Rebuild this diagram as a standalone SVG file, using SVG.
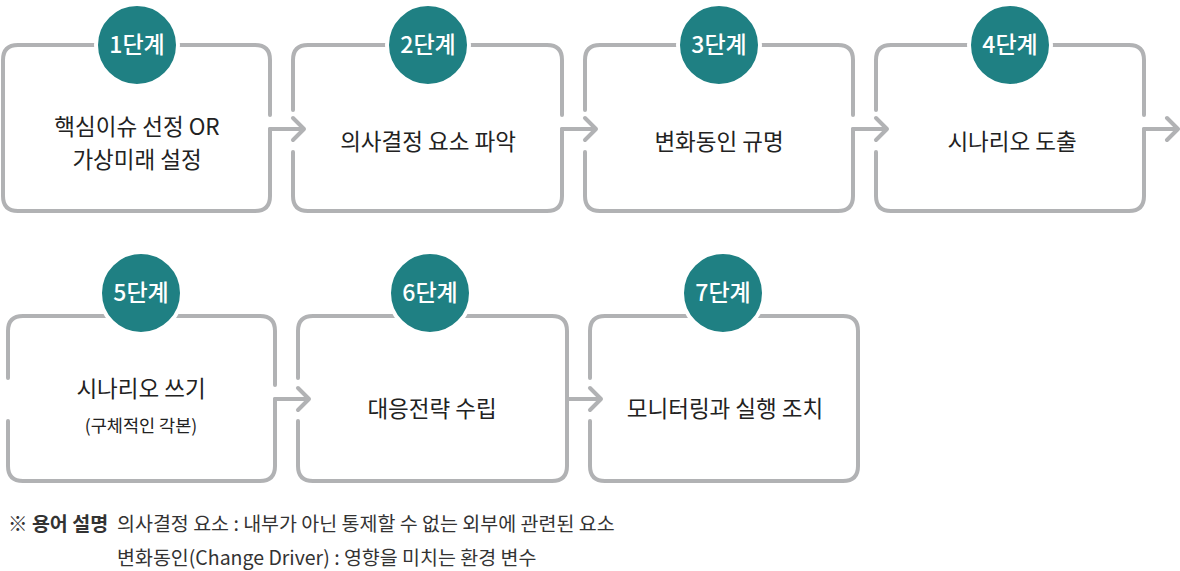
<svg xmlns="http://www.w3.org/2000/svg" width="1180" height="571" viewBox="0 0 1180 571">
<style>
.b{fill:none;stroke:#b1b2b4;stroke-width:4;stroke-linecap:round;stroke-linejoin:round}
.c{fill:#1f8083;stroke:#fff;stroke-width:4}
.ct{fill:#fff;font-family:"Noto Sans CJK KR","Noto Sans",sans-serif;font-size:23px;font-weight:500;text-anchor:middle}
.t{fill:#222;font-family:"Noto Sans CJK KR","Noto Sans",sans-serif;font-size:22.5px;text-anchor:middle}
.s{fill:#333;font-family:"Noto Sans CJK KR","Noto Sans",sans-serif;font-size:19.5px}
</style>
<rect width="1180" height="571" fill="#fff"/>
<g id="connectors" class="b">
<path d="M270 129H304M293 118L304 129L293 140"/>
<path d="M562 129H596M585 118L596 129L585 140"/>
<path d="M853 129H887M876 118L887 129L876 140"/>
<path d="M1144 129H1178M1167 118L1178 129L1167 140"/>
<path d="M275 399H309M298 388L309 399L298 410"/>
<path d="M567 399H601M590 388L601 399L590 410"/>
</g>
<g id="step1">
<path class="b" d="M270 129V196Q270 211 255 211H18Q3 211 3 196V60Q3 45 18 45H255Q270 45 270 60V115"/>
<circle class="c" cx="137" cy="45" r="41"/><text class="ct" x="137" y="53">1단계</text>
<text class="t" x="137" y="135">핵심이슈 선정 OR</text><text class="t" x="137" y="168">가상미래 설정</text>
</g>
<g id="step2">
<path class="b" d="M293 152V196Q293 211 308 211H547Q562 211 562 196V129M562 115V60Q562 45 547 45H308Q293 45 293 60V110"/>
<circle class="c" cx="428" cy="45" r="41"/><text class="ct" x="428" y="53">2단계</text>
<text class="t" x="428" y="150">의사결정 요소 파악</text>
</g>
<g id="step3">
<path class="b" d="M585 152V196Q585 211 600 211H838Q853 211 853 196V129M853 115V60Q853 45 838 45H600Q585 45 585 60V110"/>
<circle class="c" cx="719" cy="45" r="41"/><text class="ct" x="719" y="53">3단계</text>
<text class="t" x="719" y="150">변화동인 규명</text>
</g>
<g id="step4">
<path class="b" d="M876 152V196Q876 211 891 211H1129Q1144 211 1144 196V129M1144 115V60Q1144 45 1129 45H891Q876 45 876 60V110"/>
<circle class="c" cx="1010" cy="45" r="41"/><text class="ct" x="1010" y="53">4단계</text>
<text class="t" x="1012" y="150">시나리오 도출</text>
</g>
<g id="step5">
<path class="b" d="M8 421V466Q8 481 23 481H260Q275 481 275 466V399M275 385V331Q275 316 260 316H23Q8 316 8 331V378"/>
<circle class="c" cx="141" cy="293" r="41"/><text class="ct" x="141" y="301">5단계</text>
<text class="t" x="141" y="397">시나리오 쓰기</text><text class="t" x="141" y="432" style="font-size:17.5px">(구체적인 각본)</text>
</g>
<g id="step6">
<path class="b" d="M298 421V466Q298 481 313 481H552Q567 481 567 466V331Q567 316 552 316H313Q298 316 298 331V378"/>
<circle class="c" cx="430" cy="293" r="41"/><text class="ct" x="430" y="301">6단계</text>
<text class="t" x="432" y="417">대응전략 수립</text>
</g>
<g id="step7">
<path class="b" d="M590 421V466Q590 481 605 481H843Q858 481 858 466V331Q858 316 843 316H605Q590 316 590 331V378"/>
<circle class="c" cx="723" cy="293" r="41"/><text class="ct" x="723" y="301">7단계</text>
<text class="t" x="725" y="417">모니터링과 실행 조치</text>
</g>
<g id="legend">
<text class="s" x="8" y="531" style="font-weight:700">※ 용어 설명</text>
<text class="s" x="117" y="531">의사결정 요소 : 내부가 아닌 통제할 수 없는 외부에 관련된 요소</text>
<text class="s" x="117" y="565">변화동인(Change Driver) : 영향을 미치는 환경 변수</text>
</g>
</svg>
